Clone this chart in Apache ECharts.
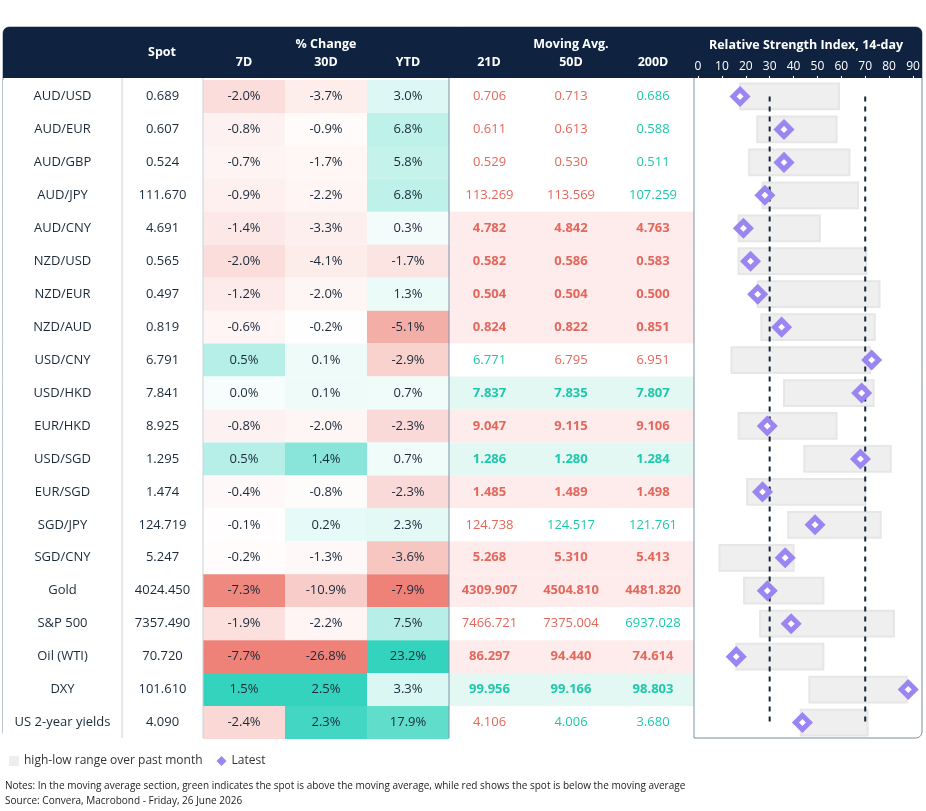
<!DOCTYPE html>
<html><head><meta charset="utf-8">
<script src="https://cdn.jsdelivr.net/npm/echarts@6/dist/echarts.min.js"></script>
<style>html,body{margin:0;padding:0;background:#fff}#c{width:926px;height:811px}</style>
</head><body><div id="c"></div>
<script>
const pairs = ['AUD/USD','AUD/EUR','AUD/GBP','AUD/JPY','AUD/CNY','NZD/USD','NZD/EUR','NZD/AUD','USD/CNY','USD/HKD','EUR/HKD','USD/SGD','EUR/SGD','SGD/JPY','SGD/CNY','Gold','S&P 500','Oil (WTI)','DXY','US 2-year yields'];
const spot = ['0.689','0.607','0.524','111.670','4.691','0.565','0.497','0.819','6.791','7.841','8.925','1.295','1.474','124.719','5.247','4024.450','7357.490','70.720','101.610','4.090'];
const chg7d = [-2.0,-0.8,-0.7,-0.9,-1.4,-2.0,-1.2,-0.6,0.5,0.0,-0.8,0.5,-0.4,-0.1,-0.2,-7.3,-1.9,-7.7,1.5,-2.4];
const chg30d = [-3.7,-0.9,-1.7,-2.2,-3.3,-4.1,-2.0,-0.2,0.1,0.1,-2.0,1.4,-0.8,0.2,-1.3,-10.9,-2.2,-26.8,2.5,2.3];
const chgYtd = [3.0,6.8,5.8,6.8,0.3,-1.7,1.3,-5.1,-2.9,0.7,-2.3,0.7,-2.3,2.3,-3.6,-7.9,7.5,23.2,3.3,17.9];
const ma21 = ['0.706','0.611','0.529','113.269','4.782','0.582','0.504','0.824','6.771','7.837','9.047','1.286','1.485','124.738','5.268','4309.907','7466.721','86.297','99.956','4.106'];
const ma50 = ['0.713','0.613','0.530','113.569','4.842','0.586','0.504','0.822','6.795','7.835','9.115','1.280','1.489','124.517','5.310','4504.810','7375.004','94.440','99.166','4.006'];
const ma200 = ['0.686','0.588','0.511','107.259','4.763','0.583','0.500','0.851','6.951','7.807','9.106','1.284','1.498','121.761','5.413','4481.820','6937.028','74.614','98.803','3.680'];
const rsiLow = [17.6,24.8,21.4,27,17,17,25,26.5,14,36,17,44.5,20.6,37.8,9,19.3,26,16,46.6,43];
const rsiHigh = [59,58,63.4,67,51,70.5,76,74,72,73.5,58,80.7,70,76.5,40,52.5,82,52.5,87.4,71];
const rsiLatest = [17.6,36,36,28,19,22,25,35,72.7,68.5,29,68,27,49,36.5,29,39,16,88,43.7];
const rsiTicks = [0,10,20,30,40,50,60,70,80,90];
const rsiBands = [30,70];

// layout (not data)
const EDGES = [0,119,200,282,364,446,527,609,691];
const FONT = '"Open Sans","Noto Sans",sans-serif';
const RED_T='#e4675c', GRN_T='#1ec8ab';

function mix(a,b,t){const p=s=>[1,3,5].map(i=>parseInt(s.substr(i,2),16));const A=p(a),B=p(b);return 'rgb('+A.map((v,i)=>Math.round(v+(B[i]-v)*t)).join(',')+')';}
function pctColor(v,arr){
  if(v<0){const m=Math.min(...arr);return mix('#ffffff','#ee8178',v/m);}
  const m=Math.max(...arr);return m>0?mix('#f6fdfc','#33d3bd',v/m):'#fff';
}
const cells=[];
pairs.forEach((p,r)=>{
  const s=parseFloat(spot[r]);
  const mas=[ma21[r],ma50[r],ma200[r]];
  const ups=mas.map(m=>s>=parseFloat(m));
  const consistent=ups.every(u=>u)||ups.every(u=>!u);
  cells.push({c:0,r,t:p,bg:'#fff',col:'#1b2a3a',bold:false});
  cells.push({c:1,r,t:spot[r],bg:'#fff',col:'#1b2a3a',bold:false});
  [chg7d,chg30d,chgYtd].forEach((arr,k)=>cells.push({c:2+k,r,t:arr[r].toFixed(1)+'%',bg:pctColor(arr[r],arr),col:'#1b2a3a',bold:false}));
  mas.forEach((m,k)=>cells.push({c:5+k,r,t:m,bg:consistent?(ups[k]?'#e3f7f3':'#fdeceb'):'#fff',col:ups[k]?GRN_T:RED_T,bold:consistent}));
});

const chart=echarts.init(document.getElementById('c'),null,{renderer:'canvas'});
const hdr=[['Spot',162,52],['% Change',326,44],['7D',244,62],['30D',326,62],['YTD',408,62],['Moving Avg.',571,44],['21D',489,62],['50D',571,62],['200D',653,62],['Relative Strength Index, 14-day',806,45]];
chart.setOption({
  animation:false,
  textStyle:{fontFamily:FONT},
  grid:[{left:3,width:691,top:80,bottom:72},{left:698,right:13,top:80,bottom:72}],
  xAxis:[
    {gridIndex:0,type:'value',min:0,max:691,show:false},
    {gridIndex:1,type:'value',min:0,max:90,interval:10,position:'top',splitLine:{show:false},axisLine:{show:false},
     axisTick:{show:true,length:4,lineStyle:{color:'#ffffff'}},axisLabel:{color:'#ffffff',fontSize:12,margin:7,fontFamily:FONT}}
  ],
  yAxis:[
    {gridIndex:0,type:'category',data:pairs,inverse:true,show:false},
    {gridIndex:1,type:'category',data:pairs,inverse:true,show:false}
  ],
  legend:{left:4,top:750,itemWidth:10,itemHeight:10,itemGap:14,textStyle:{fontSize:12,color:'#333',fontFamily:FONT},
    data:[{name:'high-low range over past month',icon:'rect',itemStyle:{color:'#eeeeee',borderWidth:0}},{name:'Latest',icon:'diamond',itemStyle:{color:'#9a85f2',borderWidth:0}}]},
  graphic:[
    {type:'rect',z:-1,shape:{x:3,y:27,width:919,height:711,r:6},style:{fill:'#fff',stroke:'#7d8b99',lineWidth:1}},
    {type:'rect',z:0,shape:{x:3,y:27,width:919,height:51,r:[6,6,0,0]},style:{fill:'#0f2340'}},
    ...hdr.map(h=>({type:'text',z:5,x:h[1],y:h[2],style:{text:h[0],fill:'#fff',font:'bold 12.5px '+FONT,align:'center',verticalAlign:'middle'}})),
    ...[[122,'#c9d2db'],[203,'#c9d2db'],[449,'#7f93a8'],[694,'#7f93a8']].map(v=>({type:'line',z:10,shape:{x1:v[0],y1:78,x2:v[0],y2:738},style:{stroke:v[1],lineWidth:1}})),
    {type:'text',x:5,y:781,style:{text:'Notes: In the moving average section, green indicates the spot is above the moving average, while red shows the spot is below the moving average',fill:'#222',font:'10px '+FONT}},
    {type:'text',x:5,y:796,style:{text:'Source: Convera, Macrobond - Friday, 26 June 2026',fill:'#222',font:'10px '+FONT}}
  ],
  series:[
    {type:'custom',xAxisIndex:0,yAxisIndex:0,silent:true,data:cells.map(d=>[d.c,d.r]),
     renderItem:(params,api)=>{
       const d=cells[params.dataIndex];
       const y=api.coord([0,d.r])[1], h=api.size([0,1])[1];
       const x0=api.coord([EDGES[d.c],0])[0], x1=api.coord([EDGES[d.c+1],0])[0];
       return {type:'group',children:[
         {type:'rect',shape:{x:x0,y:y-h/2,width:x1-x0,height:h},style:{fill:d.bg}},
         {type:'text',x:(x0+x1)/2,y:y,style:{text:d.t,fill:d.col,font:(d.bold?'bold ':'')+'13px '+FONT,align:'center',verticalAlign:'middle'}}
       ]};
     }},
    {name:'high-low range over past month',type:'custom',xAxisIndex:1,yAxisIndex:1,data:pairs.map((p,i)=>[rsiLow[i],rsiHigh[i],i]),
     encode:{x:[0,1],y:2},
     renderItem:(params,api)=>{
       const a=api.coord([api.value(0),api.value(2)]), b=api.coord([api.value(1),api.value(2)]);
       const h=api.size([0,1])[1]*0.78;
       return {type:'rect',shape:{x:a[0],y:a[1]-h/2,width:b[0]-a[0],height:h},style:{fill:'#efefef',stroke:'#e6e6e6',lineWidth:2}};
     }},
    ...rsiBands.map(b=>({type:'line',xAxisIndex:1,yAxisIndex:1,silent:true,symbol:'none',z:3,
      data:[[b,pairs[0]],[b,pairs[pairs.length-1]]],lineStyle:{color:'#15253a',type:[5,5],width:2}})),
    {name:'Latest',type:'scatter',xAxisIndex:1,yAxisIndex:1,z:5,symbol:'diamond',symbolSize:14,
     data:pairs.map((p,i)=>[rsiLatest[i],p]),itemStyle:{color:'#ffffff',borderColor:'#9a85f2',borderWidth:5,opacity:1}}
  ]
});
</script></body></html>
